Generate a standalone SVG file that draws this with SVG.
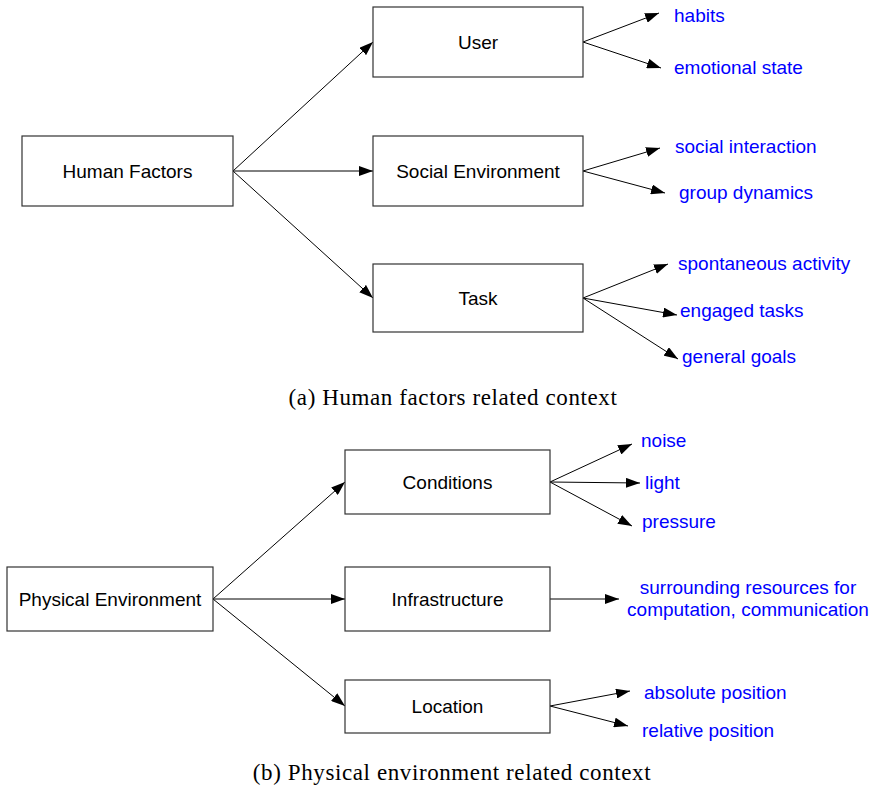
<svg xmlns="http://www.w3.org/2000/svg" width="871" height="787" viewBox="0 0 871 787">
<defs>
<marker id="ah" markerUnits="userSpaceOnUse" markerWidth="15" markerHeight="10" refX="14" refY="5" orient="auto">
<path d="M0,0 L14,5 L0,10 z" fill="#000"/>
</marker>
<style>
.box{fill:#fff;stroke:#333;stroke-width:1.2}
.lbl{font-family:"Liberation Sans",Arial,sans-serif;font-size:19px;fill:#000;text-anchor:middle}
.leaf{font-family:"Liberation Sans",Arial,sans-serif;font-size:19px;fill:#0000ff}
.cap{font-family:"Liberation Serif","Times New Roman",serif;font-size:23px;fill:#000;text-anchor:middle;letter-spacing:0.6px}
.con line{stroke:#000;stroke-width:1;marker-end:url(#ah)}
</style>
</defs>
<rect width="871" height="787" fill="#fff"/>
<g id="connectors" class="con">
<line x1="233" y1="171" x2="373" y2="42"/>
<line x1="233" y1="171" x2="373" y2="171"/>
<line x1="233" y1="171" x2="373" y2="298"/>
<line x1="583" y1="42" x2="659" y2="13"/>
<line x1="583" y1="42" x2="661" y2="68"/>
<line x1="583" y1="171" x2="660" y2="148"/>
<line x1="583" y1="171" x2="665" y2="193"/>
<line x1="583" y1="298" x2="668" y2="264"/>
<line x1="583" y1="298" x2="677" y2="315"/>
<line x1="583" y1="298" x2="678" y2="359"/>
<line x1="213" y1="599" x2="345" y2="482"/>
<line x1="213" y1="599" x2="345" y2="599"/>
<line x1="213" y1="599" x2="345" y2="706"/>
<line x1="550" y1="482" x2="632" y2="444"/>
<line x1="550" y1="482" x2="640" y2="483"/>
<line x1="550" y1="482" x2="632" y2="526"/>
<line x1="550" y1="599" x2="619" y2="599"/>
<line x1="550" y1="706" x2="630" y2="691"/>
<line x1="550" y1="706" x2="628" y2="726"/>
</g>
<g id="human-factors"><rect class="box" x="22" y="136" width="211" height="70"/><text class="lbl" x="127.5" y="177.5">Human Factors</text></g>
<g id="user"><rect class="box" x="373" y="7" width="210" height="70"/><text class="lbl" x="478" y="48.5">User</text></g>
<g id="social-environment"><rect class="box" x="373" y="136" width="210" height="70"/><text class="lbl" x="478" y="177.5">Social Environment</text></g>
<g id="task"><rect class="box" x="373" y="264" width="210" height="68"/><text class="lbl" x="478" y="304.5">Task</text></g>
<g id="leaves-a">
<text class="leaf" x="674" y="22">habits</text>
<text class="leaf" x="674" y="74">emotional state</text>
<text class="leaf" x="675" y="153">social interaction</text>
<text class="leaf" x="679" y="199">group dynamics</text>
<text class="leaf" x="678" y="270">spontaneous activity</text>
<text class="leaf" x="680" y="317">engaged tasks</text>
<text class="leaf" x="682" y="363">general goals</text>
</g>
<text class="cap" x="453" y="405">(a)  Human factors related context</text>
<g id="physical-environment"><rect class="box" x="7" y="567" width="206" height="64"/><text class="lbl" x="110" y="605.5">Physical Environment</text></g>
<g id="conditions"><rect class="box" x="345" y="450" width="205" height="64"/><text class="lbl" x="447.5" y="488.5">Conditions</text></g>
<g id="infrastructure"><rect class="box" x="345" y="567" width="205" height="64"/><text class="lbl" x="447.5" y="605.5">Infrastructure</text></g>
<g id="location"><rect class="box" x="345" y="680" width="205" height="53"/><text class="lbl" x="447.5" y="712.5">Location</text></g>
<g id="leaves-b">
<text class="leaf" x="641" y="447">noise</text>
<text class="leaf" x="645" y="489">light</text>
<text class="leaf" x="642" y="528">pressure</text>
<text class="leaf" x="748" y="594" text-anchor="middle">surrounding resources for</text>
<text class="leaf" x="748" y="616" text-anchor="middle">computation, communication</text>
<text class="leaf" x="644" y="699">absolute position</text>
<text class="leaf" x="642" y="737">relative position</text>
</g>
<text class="cap" x="452" y="780">(b)  Physical environment related context</text>
</svg>
